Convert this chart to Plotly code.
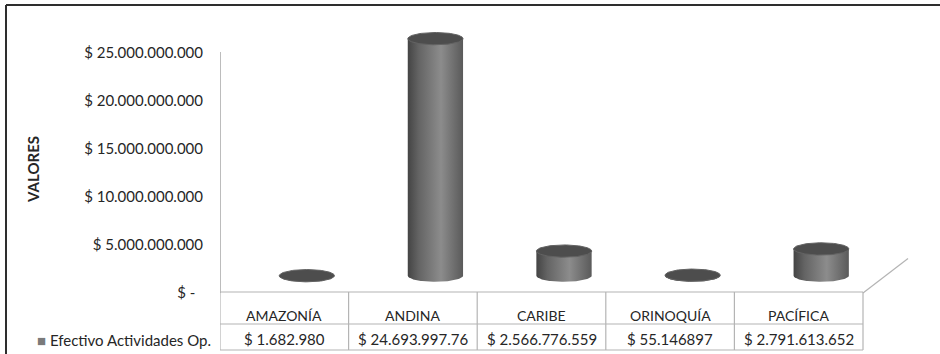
import numpy as np
import plotly.graph_objects as go

# ---- data -------------------------------------------------------------
regions = ["AMAZONÍA", "ANDINA", "CARIBE", "ORINOQUÍA", "PACÍFICA"]
efectivo = [1682980, 24693997760, 2566776559, 55146897, 2791613652]
efectivo_labels = ["$ 1.682.980", "$ 24.693.997.76", "$ 2.566.776.559",
                   "$ 55.146897", "$ 2.791.613.652"]
series_name = "Efectivo Actividades Op."
y_tickvals = [0, 5e9, 10e9, 15e9, 20e9, 25e9]
y_ticktext = ["$ -\u00a0\u00a0", "$ 5.000.000.000", "$ 10.000.000.000",
              "$ 15.000.000.000", "$ 20.000.000.000", "$ 25.000.000.000"]
axis_title = "VALORES"

# ---- page geometry ----------------------------------------------------
W, H = 940, 354
PLOT_LEFT_PX = 220          # where category -0.5 sits
PX_PER_CAT = 128.6          # width of one table column
ZERO_PX = 293               # vertical pixel of value 0
PX_PER_UNIT = 9.6 / 1e9     # vertical pixels per currency unit

x_range = [-0.5, -0.5 + (W - PLOT_LEFT_PX) / PX_PER_CAT]
y_range = [-(H - ZERO_PX) / PX_PER_UNIT, ZERO_PX / PX_PER_UNIT]

def py(px):
    """paper y for a pixel row"""
    return 1 - px / H

# 3-D floor depth (in axis units) and cylinder size
DEPTH_X, DEPTH_Y = 0.35, 3.6e9
RX, RY = 0.215, 0.64e9
LEGEND_CELL = 1.46          # legend column width, in categories

TEXT = "#262626"
FONT = "Lato"
GRID = "#b4b4b4"

fig = go.Figure()

# ---- cylinders --------------------------------------------------------
t = np.linspace(0, np.pi, 60)
tt = np.linspace(0, 2 * np.pi, 120)
for i, v in enumerate(efectivo):
    cx = i + DEPTH_X / 2
    yb = DEPTH_Y / 2
    yt = yb + v
    # body: bottom front arc, then up to the top rim
    bx = list(cx - RX * np.cos(t)) + [cx + RX, cx - RX]
    by = list(yb - RY * np.sin(t)) + [yt, yt]
    fig.add_trace(go.Scatter(
        x=bx, y=by, mode="lines", fill="toself",
        line=dict(width=0, color="rgba(0,0,0,0)"),
        fillgradient=dict(type="horizontal",
                          colorscale=[[0, "#444444"], [0.2, "#646464"],
                                      [0.6, "#8c8c8c"], [1, "#5a5a5a"]]),
        hoverinfo="skip", showlegend=False))
    # top face
    fig.add_trace(go.Scatter(
        x=cx + RX * np.cos(tt), y=yt + RY * np.sin(tt),
        mode="lines", fill="toself", fillcolor="#4d4d4d",
        line=dict(width=1, color="#636363"),
        hoverinfo="skip", showlegend=False))

shapes = []
# value axis line
shapes.append(dict(type="line", xref="x", yref="y", x0=-0.5, x1=-0.5,
                   y0=0, y1=25.1e9, line=dict(color="#a6a6a6", width=1.5)))
# floor edge receding to the right
shapes.append(dict(type="line", xref="x", yref="y", x0=4.5, x1=4.5 + DEPTH_X,
                   y0=0, y1=DEPTH_Y, line=dict(color=GRID, width=1.2)))

# data table grid
row_top, row_mid, row_bot = py(292), py(324), py(350)
shapes.append(dict(type="line", xref="x", yref="paper", x0=-0.5, x1=4.5,
                   y0=row_top, y1=row_top, line=dict(color=GRID, width=1.2)))
for yy in (row_mid, row_bot):
    shapes.append(dict(type="line", xref="x", yref="paper",
                       x0=-0.5 - LEGEND_CELL, x1=4.5, y0=yy, y1=yy,
                       line=dict(color=GRID, width=1.2)))
for k in range(len(regions) + 1):
    shapes.append(dict(type="line", xref="x", yref="paper", x0=k - 0.5,
                       x1=k - 0.5, y0=row_top, y1=row_bot,
                       line=dict(color=GRID, width=1.2)))
shapes.append(dict(type="line", xref="x", yref="paper",
                   x0=-0.5 - LEGEND_CELL, x1=-0.5 - LEGEND_CELL,
                   y0=row_mid, y1=row_bot, line=dict(color=GRID, width=1.2)))

# outer frame (top and left)
shapes.append(dict(type="line", xref="paper", yref="paper", x0=6 / W, x1=1,
                   y0=py(5), y1=py(5), line=dict(color="#2e2e2e", width=2)))
shapes.append(dict(type="line", xref="paper", yref="paper", x0=6 / W,
                   x1=6 / W, y0=py(5), y1=0,
                   line=dict(color="#2e2e2e", width=2)))

annotations = []
for i, (name, lab) in enumerate(zip(regions, efectivo_labels)):
    annotations.append(dict(x=i, y=py(315), xref="x", yref="paper",
                            xanchor="center", yanchor="middle",
                            text=name, showarrow=False,
                            font=dict(family=FONT, size=14, color=TEXT)))
    annotations.append(dict(x=i, y=py(338.5), xref="x", yref="paper",
                            xanchor="center", yanchor="middle",
                            text=lab, showarrow=False,
                            font=dict(family=FONT, size=15, color=TEXT)))
annotations.append(dict(x=35 / W, y=py(339.5), xref="paper", yref="paper",
                        xanchor="left", yanchor="middle",
                        text='<span style="color:#7a7a7a">■</span> ' + series_name,
                        showarrow=False,
                        font=dict(family=FONT, size=15, color=TEXT)))
annotations.append(dict(x=33 / W, y=py(170), xref="paper", yref="paper",
                        xanchor="center", yanchor="middle",
                        text="<b>" + axis_title + "</b>", textangle=-90,
                        showarrow=False,
                        font=dict(family=FONT, size=15, color=TEXT)))

fig.update_layout(
    width=W, height=H,
    margin=dict(l=0, r=0, t=0, b=0),
    paper_bgcolor="white", plot_bgcolor="white",
    showlegend=False,
    xaxis=dict(domain=[PLOT_LEFT_PX / W, 1], range=x_range,
               visible=False, fixedrange=True),
    yaxis=dict(domain=[0, 1], range=y_range, tickvals=y_tickvals,
               ticktext=y_ticktext, ticks="", showgrid=False,
               zeroline=False, showline=False, ticklabelstandoff=16,
               tickfont=dict(family=FONT, size=15, color=TEXT),
               fixedrange=True),
    shapes=shapes,
    annotations=annotations,
)

fig.write_html("out.html")
